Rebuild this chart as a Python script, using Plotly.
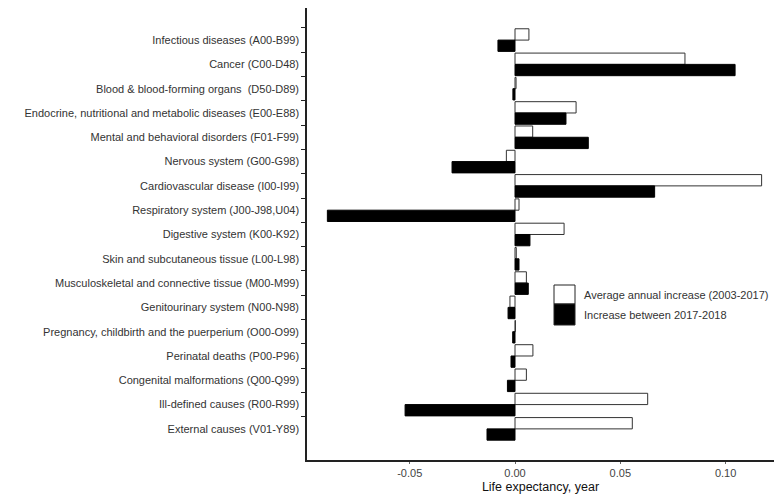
import plotly.graph_objects as go

# Causes of death (ICD-10 chapters), top to bottom
categories = [
    "Infectious diseases (A00-B99)",
    "Cancer (C00-D48)",
    "Blood & blood-forming organs  (D50-D89)",
    "Endocrine, nutritional and metabolic diseases (E00-E88)",
    "Mental and behavioral disorders (F01-F99)",
    "Nervous system (G00-G98)",
    "Cardiovascular disease (I00-I99)",
    "Respiratory system (J00-J98,U04)",
    "Digestive system (K00-K92)",
    "Skin and subcutaneous tissue (L00-L98)",
    "Musculoskeletal and connective tissue (M00-M99)",
    "Genitourinary system (N00-N98)",
    "Pregnancy, childbirth and the puerperium (O00-O99)",
    "Perinatal deaths (P00-P96)",
    "Congenital malformations (Q00-Q99)",
    "Ill-defined causes (R00-R99)",
    "External causes (V01-Y89)",
]

# Contribution to life expectancy change, years
avg_annual_2003_2017 = [
    0.0066, 0.0807, 0.0005, 0.0290, 0.0084, -0.0041, 0.1171, 0.0019, 0.0233,
    0.0006, 0.0054, -0.0024, 0.0002, 0.0085, 0.0054, 0.0630, 0.0557,
]
change_2017_2018 = [
    -0.0081, 0.1045, -0.0010, 0.0242, 0.0348, -0.0299, 0.0663, -0.0891, 0.0071,
    0.0019, 0.0063, -0.0033, -0.0011, -0.0019, -0.0036, -0.0522, -0.0133,
]

series_names = ["Average annual increase (2003-2017)", "Increase between 2017-2018"]
x_tickvals = [-0.05, 0.0, 0.05, 0.10]
x_ticktext = ["-0.05", "0.00", "0.05", "0.10"]

font_family = "Arial, Liberation Sans, sans-serif"

fig = go.Figure()
fig.add_trace(go.Bar(
    y=categories, x=avg_annual_2003_2017, orientation="h", name=series_names[0],
    marker=dict(color="white", line=dict(color="#333333", width=1)),
    showlegend=False,
))
fig.add_trace(go.Bar(
    y=categories, x=change_2017_2018, orientation="h", name=series_names[1],
    marker=dict(color="black", line=dict(color="black", width=1)),
    showlegend=False,
))

L, R, T, B = 307, 0, 8, 37
W, H = 774, 497
pw, ph = W - L - R, H - T - B

def px_x(p):
    return (p - L) / pw

def px_y(p):
    return (H - B - p) / ph

# Legend drawn as boxes with labels
legend_boxes = [(285, 304, "white"), (304, 325, "black")]
for (y0, y1, col), name in zip(legend_boxes, series_names):
    fig.add_shape(
        type="rect", xref="paper", yref="paper",
        x0=px_x(554), x1=px_x(575), y0=px_y(y1), y1=px_y(y0),
        fillcolor=col, line=dict(color="#222222", width=1),
    )
    fig.add_annotation(
        xref="paper", yref="paper", x=px_x(582), y=px_y((y0 + y1) / 2),
        text=name, showarrow=False, xanchor="left", yanchor="middle",
        font=dict(family=font_family, size=11, color="#333333"),
    )

n = len(categories)
fig.update_layout(
    width=W, height=H,
    margin=dict(l=L, r=R, t=T, b=B, pad=0),
    paper_bgcolor="white", plot_bgcolor="white",
    barmode="group", bargap=0.07, bargroupgap=0.0,
    font=dict(family=font_family, size=11, color="#333333"),
    xaxis=dict(
        range=[-0.09877, 0.12298],
        tickvals=x_tickvals, ticktext=x_ticktext,
        showgrid=False, zeroline=False,
        showline=True, linecolor="#222222", linewidth=1.5,
        ticks="outside", ticklen=2, tickcolor="#666666",
        tickfont=dict(size=11, color="#444444"),
        title=dict(text="Life expectancy, year", standoff=4,
                   font=dict(size=12.5, color="#111111")),
    ),
    yaxis=dict(
        type="category",
        categoryorder="array", categoryarray=categories,
        range=[n - 0.5 + 0.78, -0.5 - 0.82],
        tickson="boundaries",
        showgrid=False, zeroline=False,
        showline=True, linecolor="#222222", linewidth=1.5,
        ticks="outside", ticklen=4, tickcolor="#222222",
        ticklabelstandoff=4,
        tickfont=dict(size=11, color="#333333"),
    ),
)

fig.write_html("out.html")
